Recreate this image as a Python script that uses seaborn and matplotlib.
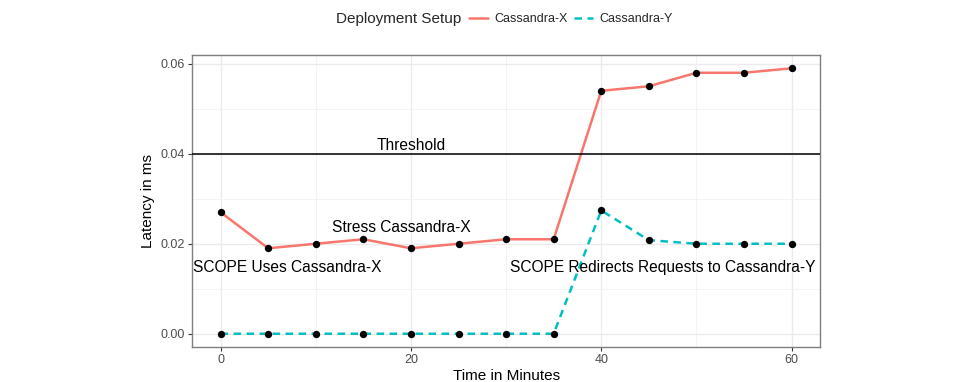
import matplotlib
matplotlib.use("Agg")
import matplotlib.pyplot as plt
import seaborn as sns
import pandas as pd
from matplotlib.lines import Line2D

time_min = [0, 5, 10, 15, 20, 25, 30, 35, 40, 45, 50, 55, 60]
cassandra_x = [0.027, 0.019, 0.020, 0.021, 0.019, 0.020, 0.021, 0.021, 0.054, 0.055, 0.058, 0.058, 0.059]
cassandra_y = [0.0, 0.0, 0.0, 0.0, 0.0, 0.0, 0.0, 0.0, 0.0274, 0.0208, 0.020, 0.020, 0.020]
series_names = ["Cassandra-X", "Cassandra-Y"]
threshold = 0.04

df = pd.DataFrame({
    "Time": time_min * 2,
    "Latency": cassandra_x + cassandra_y,
    "Setup": [series_names[0]] * len(time_min) + [series_names[1]] * len(time_min),
})

sns.set_theme(style="whitegrid")
plt.rcParams["font.family"] = ["Liberation Sans", "DejaVu Sans"]

colors = {"Cassandra-X": "#F8766D", "Cassandra-Y": "#00BFC4"}

fig = plt.figure(figsize=(9.66, 3.82), dpi=100)
ax = fig.add_axes([0.1988, 0.0916, 0.6502, 0.7644])

sns.lineplot(data=df, x="Time", y="Latency", hue="Setup", style="Setup",
             palette=colors, dashes={"Cassandra-X": "", "Cassandra-Y": (3, 2.2)},
             linewidth=1.8, ax=ax, legend=False)
sns.scatterplot(data=df, x="Time", y="Latency", color="black", s=28,
                edgecolor="black", linewidth=0, ax=ax, zorder=5, legend=False)
ax.axhline(threshold, color="black", linewidth=1.1, zorder=3)

ax.set_xlim(-3, 63)
ax.set_ylim(-0.00295, 0.06195)
ax.set_xticks([0, 20, 40, 60])
ax.set_xticks([10, 30, 50], minor=True)
ax.set_yticks([0.0, 0.02, 0.04, 0.06])
ax.set_yticks([0.01, 0.03, 0.05], minor=True)
ax.set_yticklabels(["0.00", "0.02", "0.04", "0.06"])
ax.grid(True, which="major", color="#EBEBEB", linewidth=1.0)
ax.grid(True, which="minor", color="#F3F3F3", linewidth=0.6)
ax.set_axisbelow(True)
for s in ax.spines.values():
    s.set_color("#7F7F7F")
    s.set_linewidth(1.0)
ax.tick_params(axis="both", which="major", length=3, width=0.8, color="#333333",
               labelsize=9, labelcolor="#4D4D4D", pad=2, left=True, bottom=True)
ax.tick_params(axis="both", which="minor", length=0)
ax.set_xlabel("Time in Minutes", fontsize=11, color="black", labelpad=2)
ax.set_ylabel("Latency in ms", fontsize=11, color="black", labelpad=4)

txt_kw = dict(fontsize=11.2, color="black", ha="center", va="center")
ax.text(20, 0.0418, "Threshold", **txt_kw)
ax.text(19, 0.0236, "Stress Cassandra-X", **txt_kw)
ax.text(7.0, 0.0148, "SCOPE Uses Cassandra-X", **txt_kw)
ax.text(46.5, 0.0148, "SCOPE Redirects Requests to Cassandra-Y", **txt_kw)

handles = [Line2D([], [], color=colors["Cassandra-X"], linewidth=1.8),
           Line2D([], [], color=colors["Cassandra-Y"], linewidth=1.8, dashes=(3, 2.2))]
leg = fig.legend(handles, series_names, loc="center left", bbox_to_anchor=(0.486, 0.95),
                 ncol=2, frameon=False, fontsize=9, handlelength=1.5,
                 columnspacing=0.5, handletextpad=0.5, borderaxespad=0, borderpad=0)
fig.text(0.478, 0.95, "Deployment Setup", ha="right", va="center", fontsize=11)

fig.savefig("out.png", dpi=100)
